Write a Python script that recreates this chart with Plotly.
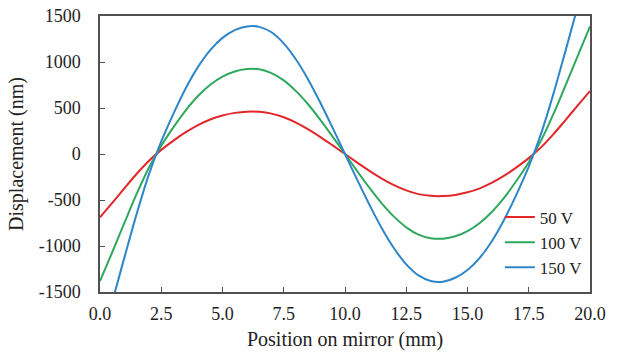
import plotly.graph_objects as go

position_mm = [0.0, 0.5, 1.0, 1.5, 2.0, 2.5, 3.0, 3.5, 4.0, 4.5, 5.0, 5.5, 6.0, 6.5, 7.0,
               7.5, 8.0, 8.5, 9.0, 9.5, 10.0, 10.5, 11.0, 11.5, 12.0, 12.5, 13.0, 13.5,
               14.0, 14.5, 15.0, 15.5, 16.0, 16.5, 17.0, 17.5, 18.0, 18.5, 19.0, 19.5, 20.0]

disp_50v = [-688, -532, -372, -215, -73, 45, 146, 237, 314, 375, 419, 447, 460, 458, 439,
            399, 341, 268, 184, 93, 0, -93, -183, -267, -339, -396, -436, -455,
            -457, -445, -416, -373, -312, -236, -145, -45, 72, 213, 369, 528, 684]

disp_100v = [-1381, -1068, -746, -431, -146, 90, 292, 475, 630, 752, 840, 896, 923, 920, 880,
             800, 683, 538, 369, 187, 0, -187, -368, -536, -681, -797, -877, -917,
             -920, -894, -838, -750, -628, -474, -291, -90, 145, 430, 745, 1067, 1388]

disp_150v = [-2076, -1605, -1121, -648, -219, 136, 439, 714, 947, 1130, 1262, 1347, 1387, 1382, 1323,
             1203, 1027, 808, 554, 281, 0, -281, -553, -806, -1024, -1200, -1320, -1380,
             -1388, -1345, -1260, -1128, -945, -712, -438, -136, 219, 648, 1121, 1605, 2076]

series_names = ["50 V", "100 V", "150 V"]
series_colors = ["#e2272b", "#2fa85e", "#2e86c8"]

x_tickvals = [0, 2.5, 5, 7.5, 10, 12.5, 15, 17.5, 20]
x_ticktext = ["0.0", "2.5", "5.0", "7.5", "10.0", "12.5", "15.0", "17.5", "20.0"]
y_tickvals = [-1500, -1000, -500, 0, 500, 1000, 1500]
y_ticktext = ["-1500", "-1000", "-500", "0", "500", "1000", "1500"]

fig = go.Figure()
for name, ys, col in zip(series_names, [disp_50v, disp_100v, disp_150v], series_colors):
    fig.add_trace(go.Scatter(x=position_mm, y=ys, mode="lines", name=name,
                             line=dict(color=col, width=2, shape="spline", smoothing=0.9)))

font_family = "Liberation Serif, Times New Roman, serif"
fig.update_layout(
    width=617, height=354,
    margin=dict(l=100, r=27, t=16, b=62),
    paper_bgcolor="white", plot_bgcolor="white",
    font=dict(family=font_family, size=18, color="#222222"),
    showlegend=True,
    legend=dict(x=0.816, y=0.335, xanchor="left", yanchor="top",
                bgcolor="rgba(0,0,0,0)", font=dict(size=17, family=font_family),
                tracegroupgap=0, itemwidth=30),
)
fig.update_xaxes(
    range=[0, 20], tickvals=x_tickvals, ticktext=x_ticktext,
    showgrid=False, zeroline=False, automargin=False, ticklabeloverflow="allow",
    showline=True, linecolor="#505050", linewidth=1.5, mirror=True,
    ticks="inside", ticklen=5, tickcolor="#505050", ticklabelstandoff=5,
    tickfont=dict(size=18, family=font_family),
    title=dict(text="Position on mirror (mm)", font=dict(size=20, family=font_family), standoff=9),
)
fig.update_yaxes(
    range=[-1500, 1500], tickvals=y_tickvals, ticktext=y_ticktext,
    showgrid=False, zeroline=False, automargin=False, ticklabeloverflow="allow",
    showline=True, linecolor="#505050", linewidth=1.5, mirror=True,
    ticks="inside", ticklen=5, tickcolor="#505050", ticklabelstandoff=14,
    tickfont=dict(size=18, family=font_family),
    title=dict(text="Displacement (nm)", font=dict(size=20, family=font_family), standoff=10),
)

fig.write_html("out.html",
               config={"displayModeBar": False},
               post_script="document.body.style.margin='0';document.body.style.padding='0';")
